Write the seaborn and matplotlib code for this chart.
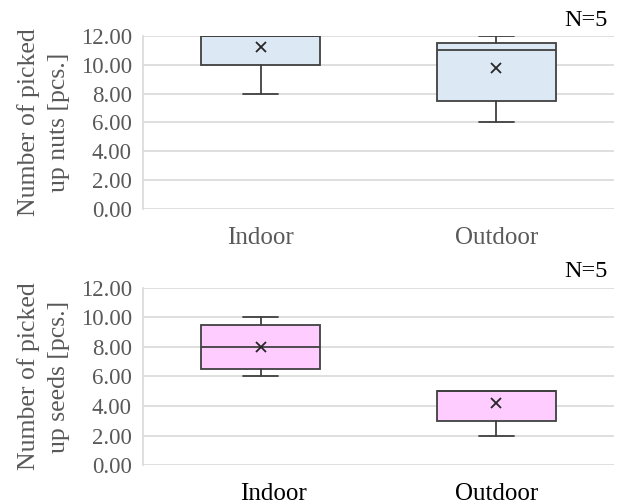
import numpy as np
import pandas as pd
import matplotlib
matplotlib.use("Agg")
import matplotlib.pyplot as plt
import matplotlib.transforms as mtransforms
import seaborn as sns

# Picked-up counts per trial (5 trials per site)
sites = ["Indoor", "Outdoor"]
nuts_indoor = [8, 12, 12, 12, 12]
nuts_outdoor = [6, 9, 11, 11, 12]
seeds_indoor = [6, 7, 8, 9, 10]
seeds_outdoor = [2, 4, 5, 5, 5]
yticks = [0, 2, 4, 6, 8, 10, 12]
n_label = "N=5"

sns.set_theme(style="whitegrid")
plt.rcParams["font.family"] = ["Liberation Serif", "DejaVu Serif"]

GRAY_TXT = "#595959"
GRID = "#d9d9d9"
EDGE = "#404040"


def box_stats(values):
    v = np.asarray(values, dtype=float)
    q1, med, q3 = np.percentile(v, [25, 50, 75], method="weibull")
    return dict(med=med, q1=q1, q3=q3, whislo=v.min(), whishi=v.max(),
                mean=v.mean(), fliers=[])


def draw_panel(ax, groups, fill, ylabel, xcolor):
    frame = pd.DataFrame({
        "site": np.repeat(sites, [len(g) for g in groups]),
        "count": np.concatenate(groups),
    })
    stats = [box_stats(g) for g in groups]
    ax.bxp(stats, positions=range(len(sites)), widths=0.505,
           patch_artist=True, showfliers=False, showmeans=False,
           boxprops=dict(facecolor=fill, edgecolor=EDGE, linewidth=1.3),
           medianprops=dict(color=EDGE, linewidth=1.3),
           whiskerprops=dict(color=EDGE, linewidth=1.3),
           capprops=dict(color=EDGE, linewidth=1.3),
           capwidths=0.15, zorder=3)
    sns.pointplot(data=frame, x="site", y="count", order=sites,
                  estimator="mean", errorbar=None, markers="x",
                  linestyles="none", color="#262626", markersize=7,
                  markeredgewidth=1.3, ax=ax, zorder=4)
    ax.set_xlim(-0.5, 1.5)
    ax.set_ylim(0, 12)
    ax.set_yticks(yticks)
    ax.set_yticklabels([f"{t:.2f}" for t in yticks])
    ax.set_xticks(range(len(sites)))
    ax.set_xticklabels(sites)
    ax.grid(axis="y", color=GRID, linewidth=1.2)
    ax.grid(axis="x", visible=False)
    for side in ("top", "right", "bottom"):
        ax.spines[side].set_visible(False)
    ax.spines["left"].set_color(GRID)
    ax.spines["left"].set_linewidth(1.2)
    ax.tick_params(axis="y", labelsize=16.5, labelcolor=GRAY_TXT, length=0, pad=8)
    ax.tick_params(axis="x", labelsize=18, labelcolor=xcolor, length=0, pad=13)
    ax.set_xlabel("")
    ax.set_ylabel(ylabel, fontsize=18.5, color=GRAY_TXT, labelpad=8,
                  multialignment="center", linespacing=1.45)
    ax.text(0.987, 1.03, n_label, transform=ax.transAxes, ha="right",
            va="bottom", fontsize=17.5, color="black")


fig = plt.figure(figsize=(6.22, 5.04), dpi=100)
ax1 = fig.add_axes([0.230, 0.585, 0.757, 0.344])
ax2 = fig.add_axes([0.230, 0.077, 0.757, 0.352])

draw_panel(ax1, [nuts_indoor, nuts_outdoor], "#dde8f5",
           "Number of picked\nup nuts [pcs.]", GRAY_TXT)
draw_panel(ax2, [seeds_indoor, seeds_outdoor], "#ffccff",
           "Number of picked\nup seeds [pcs.]", "black")

# the lower "Indoor" label sits a little right of its box
lbl = ax2.get_xticklabels()[0]
lbl.set_transform(lbl.get_transform() +
                  mtransforms.ScaledTranslation(13 / 100, 0, fig.dpi_scale_trans))

fig.savefig("out.png", dpi=100)
